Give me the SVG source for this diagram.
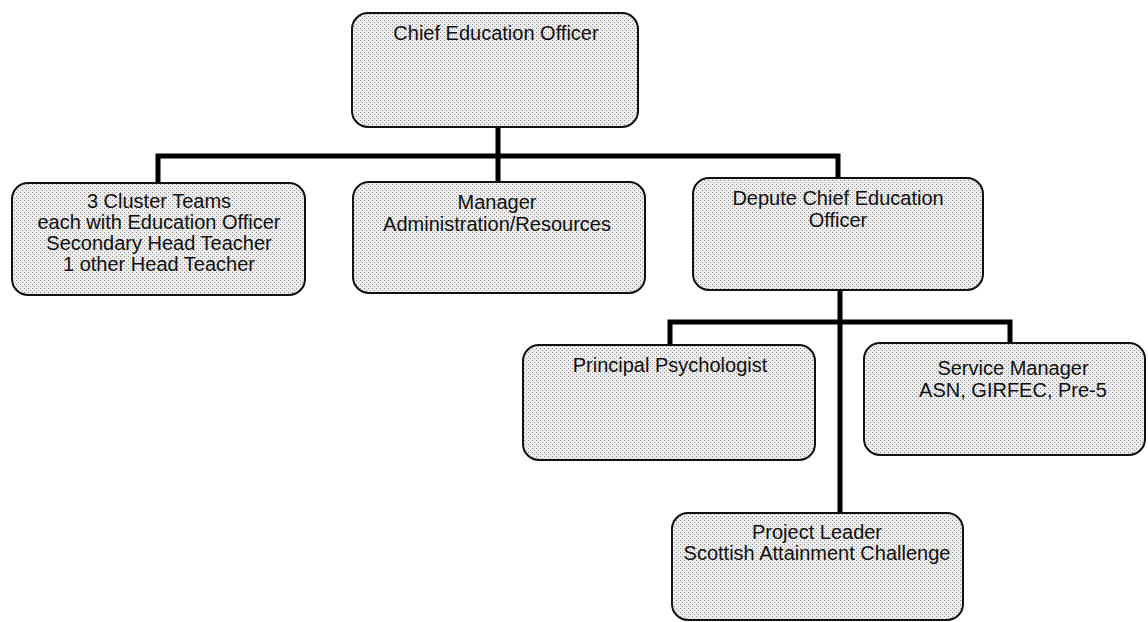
<svg xmlns="http://www.w3.org/2000/svg" width="1148" height="622" viewBox="0 0 1148 622">
  <style>
    .box { fill: url(#stipple); stroke: #111; stroke-width: 2; }
    .lbl { font-family: "Liberation Sans", Arial, sans-serif; font-size: 20px; fill: #111; text-anchor: middle; }
    .wire { fill: none; stroke: #000; stroke-width: 5; stroke-linecap: square; }
  </style>
  <defs>
    <!-- light halftone fill for the boxes -->
    <pattern id="stipple" width="4" height="4" patternUnits="userSpaceOnUse">
      <rect width="4" height="4" fill="#ececec"/>
      <rect x="0" y="0" width="1" height="1" fill="#8a8a8a"/>
      <rect x="2" y="2" width="1" height="1" fill="#a0a0a0"/>
    </pattern>
  </defs>
  <rect width="1148" height="622" fill="#fff"/>

  <g id="connectors">
    <path class="wire" d="M498 127 V156"/>
    <path class="wire" d="M158 183 V156 H838 V178"/>
    <path class="wire" d="M498 156 V182"/>
    <path class="wire" d="M840 290 V513"/>
    <path class="wire" d="M670 345 V322 H1010 V343"/>
  </g>

  <g id="chief">
    <rect class="box" x="352" y="13" width="286" height="114" rx="16"/>
    <text class="lbl" x="496" y="40">Chief Education Officer</text>
  </g>

  <g id="clusters">
    <rect class="box" x="12" y="183" width="293" height="112" rx="16"/>
    <text class="lbl" x="159" y="208">3 Cluster Teams</text>
    <text class="lbl" x="159" y="229">each with Education Officer</text>
    <text class="lbl" x="159" y="250">Secondary Head Teacher</text>
    <text class="lbl" x="159" y="271">1 other Head Teacher</text>
  </g>

  <g id="manager">
    <rect class="box" x="353" y="182" width="292" height="111" rx="16"/>
    <text class="lbl" x="497" y="209">Manager</text>
    <text class="lbl" x="497" y="231">Administration/Resources</text>
  </g>

  <g id="depute">
    <rect class="box" x="693" y="178" width="290" height="112" rx="16"/>
    <text class="lbl" x="838" y="205">Depute Chief Education</text>
    <text class="lbl" x="838" y="227">Officer</text>
  </g>

  <g id="psychologist">
    <rect class="box" x="523" y="345" width="292" height="115" rx="16"/>
    <text class="lbl" x="670" y="372">Principal Psychologist</text>
  </g>

  <g id="service">
    <rect class="box" x="864" y="343" width="281" height="112" rx="16"/>
    <text class="lbl" x="1013" y="375">Service Manager</text>
    <text class="lbl" x="1013" y="397">ASN, GIRFEC, Pre-5</text>
  </g>

  <g id="project">
    <rect class="box" x="672" y="513" width="291" height="107" rx="16"/>
    <text class="lbl" x="817" y="539">Project Leader</text>
    <text class="lbl" x="817" y="560">Scottish Attainment Challenge</text>
  </g>
</svg>
